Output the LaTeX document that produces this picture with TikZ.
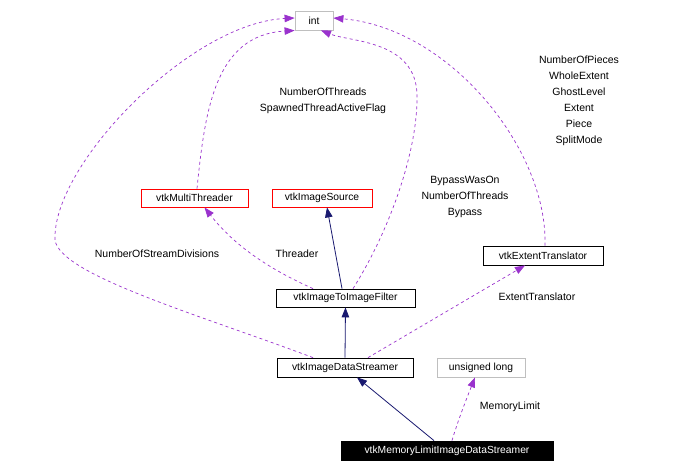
\documentclass[tikz,border=0pt]{standalone}
\usepackage{fontspec}
\setmainfont{Liberation Sans}
\usetikzlibrary{arrows.meta}
\definecolor{dpurple}{HTML}{9A32CD}
\definecolor{dnavy}{HTML}{191970}
\definecolor{dgray}{HTML}{BFBFBF}
\begin{document}
\begin{tikzpicture}[x=1pt,y=-1pt,
  cls/.style={draw=black,line width=0.8pt,rectangle,inner sep=0pt,font=\fontsize{10.3}{12}\selectfont,text=black},
  usage/.style={draw=dpurple,line width=0.7pt,dash pattern=on 3pt off 3pt,-{Triangle[length=10pt,width=7.5pt,fill=dpurple]}},
  inh/.style={draw=dnavy,line width=0.8pt,-{Triangle[length=10pt,width=7.5pt,fill=dnavy]}},
  lbl/.style={font=\fontsize{10.5}{16}\selectfont,align=center,inner sep=0pt,text=black}]
\useasboundingbox[fill=white] (0,0) rectangle (677,472);
% nodes
\node[cls,draw=dgray,minimum width=38pt,minimum height=19pt] (int) at (314,20.5) {int};
\node[cls,draw=red,minimum width=107pt,minimum height=18pt] (mt) at (194.5,198) {vtkMultiThreader};
\node[cls,draw=red,minimum width=100pt,minimum height=18pt] (src) at (322,198) {vtkImageSource};
\node[cls,minimum width=120pt,minimum height=19pt] (et) at (543,255.5) {vtkExtentTranslator};
\node[cls,minimum width=139pt,minimum height=18pt] (itif) at (345.5,298) {vtkImageToImageFilter};
\node[cls,minimum width=136pt,minimum height=19pt] (ids) at (345,367.5) {vtkImageDataStreamer};
\node[cls,draw=dgray,minimum width=88pt,minimum height=19pt] (ul) at (481,367.5) {unsigned long};
\node[cls,fill=black,text=white,minimum width=212pt,minimum height=19pt] (ml) at (447,450.5) {vtkMemoryLimitImageDataStreamer};
% usage edges
\draw[usage] ([xshift=-32pt]ids.north) .. controls (200,315) and (60,275) .. (55,240)
  .. controls (52,165) and (190,23) .. ([yshift=2.5pt]int.west);
\draw[usage] ([xshift=2.5pt]mt.north) .. controls (205,110) and (215,35) .. ([yshift=-2.5pt]int.west |- 0,28);
\draw[usage] ([xshift=7.5pt]itif.north) .. controls (390,230) and (418,150) .. (417,95)
  .. controls (416,40) and (350,42) .. ([xshift=7pt]int.south);
\draw[usage] ([xshift=2pt]et.north) .. controls (548,150) and (450,28) .. ([yshift=2.5pt]int.east);
\draw[usage] ([xshift=23pt]ids.north) -- ([xshift=-18pt]et.south);
\draw[usage] ([xshift=-32.5pt]itif.north) .. controls (260,265) and (230,240) .. ([xshift=10pt]mt.south);
\draw[usage] ([xshift=5pt]ml.north) .. controls (458,420) and (468,395) .. ([xshift=-6pt]ul.south);
% inheritance
\draw[inh] ([xshift=-3.5pt]itif.north) -- ([xshift=5pt]src.south);
\draw[inh] (ids.north) -- (itif.south);
\draw[inh] ([xshift=-13pt]ml.north) -- ([xshift=12pt]ids.south);
% labels
\node[lbl] (l1) at (157,254) {NumberOfStreamDivisions};
\node[lbl] (l2) at (297,254) {Threader};
\node[lbl] (l3) at (323,100.5) {NumberOfThreads\\SpawnedThreadActiveFlag};
\node[lbl] (l4) at (465,197) {BypassWasOn\\NumberOfThreads\\Bypass};
\node[lbl] (l5) at (579,101) {NumberOfPieces\\WholeExtent\\GhostLevel\\Extent\\Piece\\SplitMode};
\node[lbl] (l6) at (537,297) {ExtentTranslator};
\node[lbl] (l7) at (510,407) {MemoryLimit};
\end{tikzpicture}
\end{document}
